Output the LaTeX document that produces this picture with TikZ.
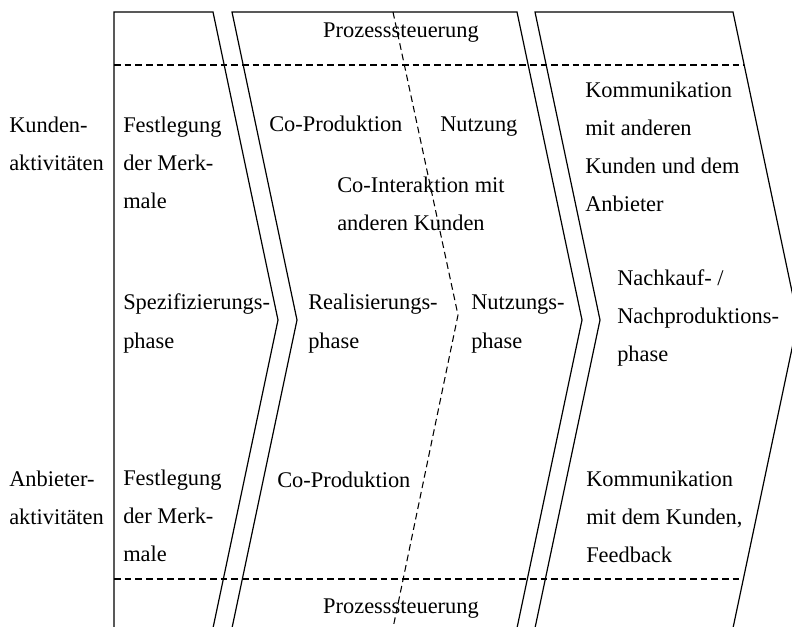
\documentclass[tikz,border=0pt]{standalone}
\usepackage{fontspec}
\setmainfont{Liberation Serif}
\usetikzlibrary{positioning}

\begin{document}
\begin{tikzpicture}[x=0.75pt,y=-0.75pt,
    every node/.style={font=\fontsize{16.8}{28.5}\selectfont,align=left,inner sep=0pt},
    txt/.style={anchor=base west},
    rand/.style={line width=0.9pt,line join=miter},
    trenn/.style={line width=0.8pt,dash pattern=on 5pt off 3pt}]
  \useasboundingbox (0,0) rectangle (792,627);
  \clip (0,0) rectangle (792,627);

  % Phasen (Pfeile)
  \draw[rand] (114,640) -- (114,12) -- (213,12) -- (278,320) -- (213,628);
  \draw[rand] (232,628) -- (297,320) -- (232,12) -- (517,12) -- (582,320) -- (517,628);
  \draw[rand] (535,628) -- (600,320) -- (535,12) -- (733,12) -- (798,320) -- (733,628);
  \draw[trenn] (393,12) -- (458,315) -- (393,628);

  % Prozesssteuerung
  \coordinate (oL) at (114,65);
  \coordinate (oR) at (744,65);
  \coordinate (uL) at (114,579);
  \coordinate (uR) at (743,579);
  \draw[trenn] (oL) -- (oR);
  \draw[trenn] (uL) -- (uR);
  \node[anchor=base] (prozT) at (401,38) {Prozesssteuerung};
  \node[anchor=base] (prozB) at (401,613) {Prozesssteuerung};

  % Zeilen (base = letzte Zeile)
  \node[txt] (kund) at (9,171) {Kunden-\\aktivitäten};
  \node[txt] (anb) at (9,524) {Anbieter-\\aktivitäten};

  % Spezifizierungsphase
  \node[txt] (festK) at (123,209) {Festlegung\\der Merk-\\male};
  \node[txt] (spez) at (123,348) {Spezifizierungs-\\phase};
  \node[txt] (festA) at (123,561) {Festlegung\\der Merk-\\male};

  % Realisierungs- und Nutzungsphase
  \node[txt] (coprodK) at (269,132) {Co-Produktion};
  \node[txt] (nutz) at (440,132) {Nutzung};
  \node[txt] (coint) at (337,231) {Co-Interaktion mit\\anderen Kunden};
  \node[txt] (real) at (308,348) {Realisierungs-\\phase};
  \node[txt] (nutzph) at (471,348) {Nutzungs-\\phase};
  \node[txt] (coprodA) at (277,487) {Co-Produktion};

  % Nachkaufphase
  \node[txt] (kommK) at (585,212) {Kommunikation\\mit anderen\\Kunden und dem\\Anbieter};
  \node[txt] (nach) at (617,361) {Nachkauf- /\\Nachproduktions-\\phase};
  \node[txt] (kommA) at (586,562) {Kommunikation\\mit dem Kunden,\\Feedback};
\end{tikzpicture}
\end{document}
